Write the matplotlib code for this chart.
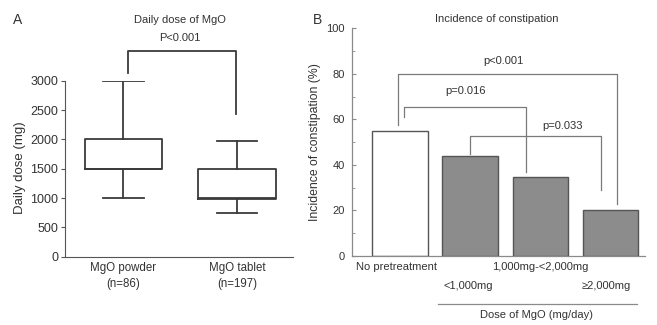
import matplotlib
matplotlib.use("Agg")
import matplotlib.pyplot as plt
from matplotlib.ticker import MultipleLocator

plt.rcParams['font.family'] = ['Liberation Sans', 'DejaVu Sans']
plt.rcParams['font.size'] = 8

# ---- Data ----
# Panel A: box plot summaries (mg)
groups_a = ["MgO powder\n(n=86)", "MgO tablet\n(n=197)"]
whisk_low = [1000, 750]
q1 = [1500, 990]
median = [1500, 1000]
q3 = [2000, 1500]
whisk_high = [3000, 1980]
p_text_a = "P<0.001"

# Panel B: incidence of constipation (%)
cats_b = ["No pretreatment", "<1,000mg", "1,000mg-<2,000mg", "\u22652,000mg"]
incidence = [55, 44, 34.5, 20]
bar_colors = ["white", "#8c8c8c", "#8c8c8c", "#8c8c8c"]
# brackets: (left x, right x, left leg bottom, right leg bottom, top, label, label x, label y)
brackets_b = [
    (-0.03, 3.09, 57.5, 23, 80, "p<0.001", 1.48, 85.5),
    (0.05, 1.79, 61, 37, 65.5, "p=0.016", 0.93, 72.5),
    (1.0, 2.86, 45, 29, 52.5, "p=0.033", 2.32, 57),
]

W, H = 657, 325
fig = plt.figure(figsize=(W / 100, H / 100), dpi=100)
txt = "#333333"

def fx(x):
    return x / W

def fy(y):
    return 1 - y / H

# ---- Panel A ----
axA = fig.add_axes([fx(65), fy(256.7), fx(293 - 65), (256.7 - 80.7) / H])
stats = []
for i in range(2):
    stats.append(dict(med=median[i], q1=q1[i], q3=q3[i], whislo=whisk_low[i],
                      whishi=whisk_high[i], fliers=[], label=groups_a[i]))
lc = "#3a3a3a"
lw = 1.3
axA.bxp(stats, positions=[1, 2], widths=0.68, capwidths=0.36, showfliers=False,
        boxprops=dict(color=lc, linewidth=lw),
        whiskerprops=dict(color=lc, linewidth=lw),
        capprops=dict(color=lc, linewidth=lw),
        medianprops=dict(color=lc, linewidth=lw))
axA.set_xlim(0.485, 2.493)
axA.set_ylim(0, 3000)
axA.set_yticks([0, 500, 1000, 1500, 2000, 2500, 3000])
axA.spines['top'].set_visible(False)
axA.spines['right'].set_visible(False)
for s in ['left', 'bottom']:
    axA.spines[s].set_color("#555555")
    axA.spines[s].set_linewidth(0.8)
axA.tick_params(axis='y', direction='out', length=3, width=0.8, color="#555555",
                labelcolor=txt, pad=2, labelsize=9)
axA.tick_params(axis='x', length=0, labelcolor=txt, pad=4, labelsize=8.3)
for t in axA.get_xticklabels():
    t.set_linespacing(1.45)
# significance bracket
axA.plot([1.04, 1.04, 1.99, 1.99], [3130, 3500, 3500, 2440], color=lc, lw=lw,
         clip_on=False)
fig.text(fx(20), fy(168), "Daily dose (mg)", rotation=90, ha='center', va='center',
         color=txt, fontsize=9.5)
fig.text(fx(180), fy(20), "Daily dose of MgO", ha='center', va='center', color=txt)
fig.text(fx(180), fy(38), p_text_a, ha='center', va='center', color=txt)
fig.text(fx(18), fy(20), "A", ha='center', va='center', color=txt, fontsize=10)

# ---- Panel B ----
axB = fig.add_axes([fx(351.7), fy(256), fx(645 - 351.7), (256 - 28.3) / H])
xs = list(range(len(incidence)))
axB.bar(xs, incidence, width=0.79, color=bar_colors, edgecolor="#555555", linewidth=1.0)
axB.set_xlim(-0.688, 3.49)
axB.set_ylim(0, 100)
axB.yaxis.set_major_locator(MultipleLocator(20))
axB.yaxis.set_minor_locator(MultipleLocator(10))
axB.set_xticks([])
axB.spines['top'].set_visible(False)
axB.spines['right'].set_visible(False)
for s in ['left', 'bottom']:
    axB.spines[s].set_color("#8a8a8a")
    axB.spines[s].set_linewidth(0.9)
axB.tick_params(axis='y', which='both', direction='in', color="#8a8a8a", labelcolor=txt,
                pad=5, labelsize=8)
axB.tick_params(axis='y', which='major', length=3, width=0.8)
axB.tick_params(axis='y', which='minor', length=2, width=0.6)
bc = "#7a7a7a"
for (xl, xr, yl, yr, yt, lab, tx, ty) in brackets_b:
    axB.plot([xl, xl, xr, xr], [yl, yt, yt, yr], color=bc, lw=0.9, clip_on=False)
    axB.text(tx, ty, lab, ha='center', va='center', color=txt)

fig.text(fx(315), fy(142), "Incidence of constipation (%)", rotation=90,
         ha='center', va='center', color=txt, fontsize=8.8)
fig.text(fx(497), fy(19.3), "Incidence of constipation", ha='center', va='center', color=txt)
fig.text(fx(318), fy(20), "B", ha='center', va='center', color=txt, fontsize=10)

# category labels (staggered)
lab_pos = [(396.7, 266.7), (468, 286), (540, 266.7), (606.7, 286)]
for lab, (px, py) in zip(cats_b, lab_pos):
    fig.text(fx(px), fy(py), lab, ha='center', va='center', color=txt)
fig.add_artist(plt.Line2D([fx(438), fx(636.7)], [fy(304), fy(304)], color="#8a8a8a", lw=0.9))
fig.text(fx(537), fy(314.7), "Dose of MgO (mg/day)", ha='center', va='center', color=txt)

fig.savefig("out.png", dpi=100, facecolor="white")
